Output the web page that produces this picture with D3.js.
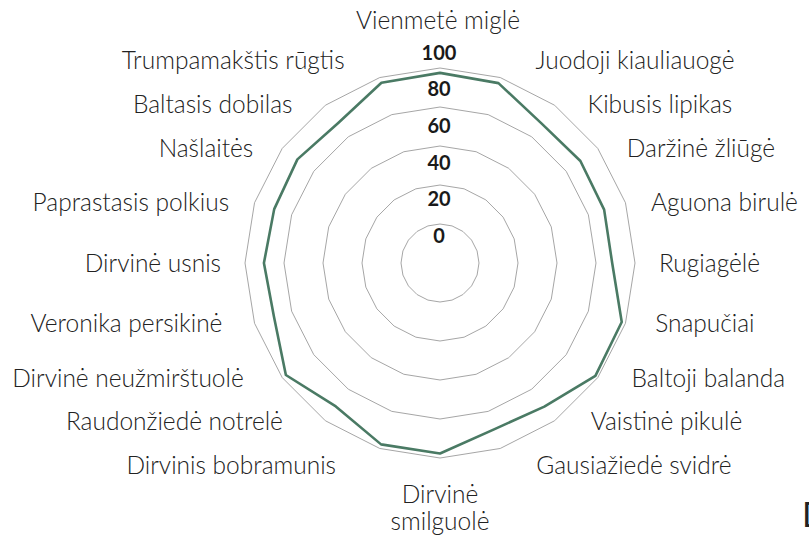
<!DOCTYPE html>
<html>
<head>
<meta charset="utf-8">
<script src="https://cdn.jsdelivr.net/npm/d3@7"></script>
<style>
  body { margin: 0; background: #fff; }
  .cat { font-family: Lato, "Open Sans", sans-serif; font-weight: 300; font-size: 24.5px; fill: #222; }
  .tick { font-family: Lato, "Open Sans", sans-serif; font-weight: 700; font-size: 20px; fill: #1a1a1a; }
</style>
</head>
<body>
<svg width="809" height="535"></svg>
<script>
var svg = d3.select("svg");

// Data
var categories = [
    "Vienmetė miglė", "Juodoji kiauliauogė", "Kibusis lipikas", "Daržinė žliūgė",
    "Aguona birulė", "Rugiagėlė", "Snapučiai", "Baltoji balanda", "Vaistinė pikulė",
    "Gausiažiedė svidrė", "Dirvinė smilguolė", "Dirvinis bobramunis", "Raudonžiedė notrelė",
    "Dirvinė neužmirštuolė", "Veronika persikinė", "Dirvinė usnis", "Paprastasis polkius",
    "Našlaitės", "Baltasis dobilas", "Trumpamakštis rūgtis"
];
var values = [
    97.5, 97, 88.5, 89, 88.5, 88.3, 98, 98.5, 91, 89.7,
    97.7, 97.8, 90.9, 97.7, 89.5, 90.3, 89.4, 90.4, 88.8, 97.2
];
var ringValues = [20, 40, 60, 80, 100];
var tickLabels = [0, 20, 40, 60, 80, 100];

// Layout
var cx = 440, cy = 263;
var n = categories.length;

var rScale = d3.scaleLinear().domain([0, 100]).range([0, 195]);
var tickPos = d3.scaleLinear().domain([0, 100]).range([27.5, 210.5]);
var angle = d3.scaleLinear().domain([0, n]).range([0, 2 * Math.PI]);

var g = svg.append("g")
    .attr("transform", "translate(" + cx + "," + cy + ")");

// Grid rings (20-gons)
var ringLine = d3.lineRadial()
    .angle((d, i) => angle(i))
    .radius(d => rScale(d))
    .curve(d3.curveLinearClosed);

g.selectAll(".ring")
    .data(ringValues)
    .enter().append("path")
    .attr("class", "ring")
    .attr("d", v => ringLine(d3.range(n).map(() => v)))
    .attr("fill", "none")
    .attr("stroke", "#a6a6a6")
    .attr("stroke-width", 1);

// Series line
g.append("path")
    .datum(values)
    .attr("d", ringLine)
    .attr("fill", "none")
    .attr("stroke", "#4a7a64")
    .attr("stroke-width", 2.6)
    .attr("stroke-linejoin", "round");

// Tick labels
g.selectAll(".tick")
    .data(tickLabels)
    .enter().append("text")
    .attr("class", "tick")
    .attr("x", -1)
    .attr("y", d => -tickPos(d))
    .attr("dy", "0.36em")
    .attr("text-anchor", "middle")
    .text(d => d);

// Category labels
categories.forEach(function (name, i) {
    var a = angle(i);
    var s = Math.sin(a), c = Math.cos(a);
    var t = g.append("text").attr("class", "cat");

    if (i === 0) {
        t.attr("x", -2).attr("y", -243).attr("dy", "0.36em")
            .attr("text-anchor", "middle").text(name);
        return;
    }
    if (i === n / 2) {
        var words = name.split(" ");
        t.attr("text-anchor", "middle");
        words.forEach(function (w, k) {
            t.append("tspan").attr("x", 0).attr("y", 240 + k * 27).text(w);
        });
        return;
    }

    var side = s > 0 ? 1 : -1;
    var pad;
    if (c > 0) pad = 14 + 20 * c * c;
    else pad = 14 + (side > 0 ? 20 : 28) * -c;
    var x = side * (205 * Math.abs(s) + pad);
    var extra = 16 * Math.max(0, Math.abs(c) - 0.85) / 0.1;
    var y = -196 * c - Math.sign(c) * extra;

    t.attr("x", x).attr("y", y).attr("dy", "0.36em")
        .attr("text-anchor", side > 0 ? "start" : "end")
        .text(name);
});

// Clipped mark at the bottom-right corner
svg.append("text")
    .attr("x", 802)
    .attr("y", 527)
    .style("font-family", "Lato, sans-serif")
    .style("font-size", "34px")
    .style("fill", "#222")
    .text("D");
</script>
</body>
</html>
